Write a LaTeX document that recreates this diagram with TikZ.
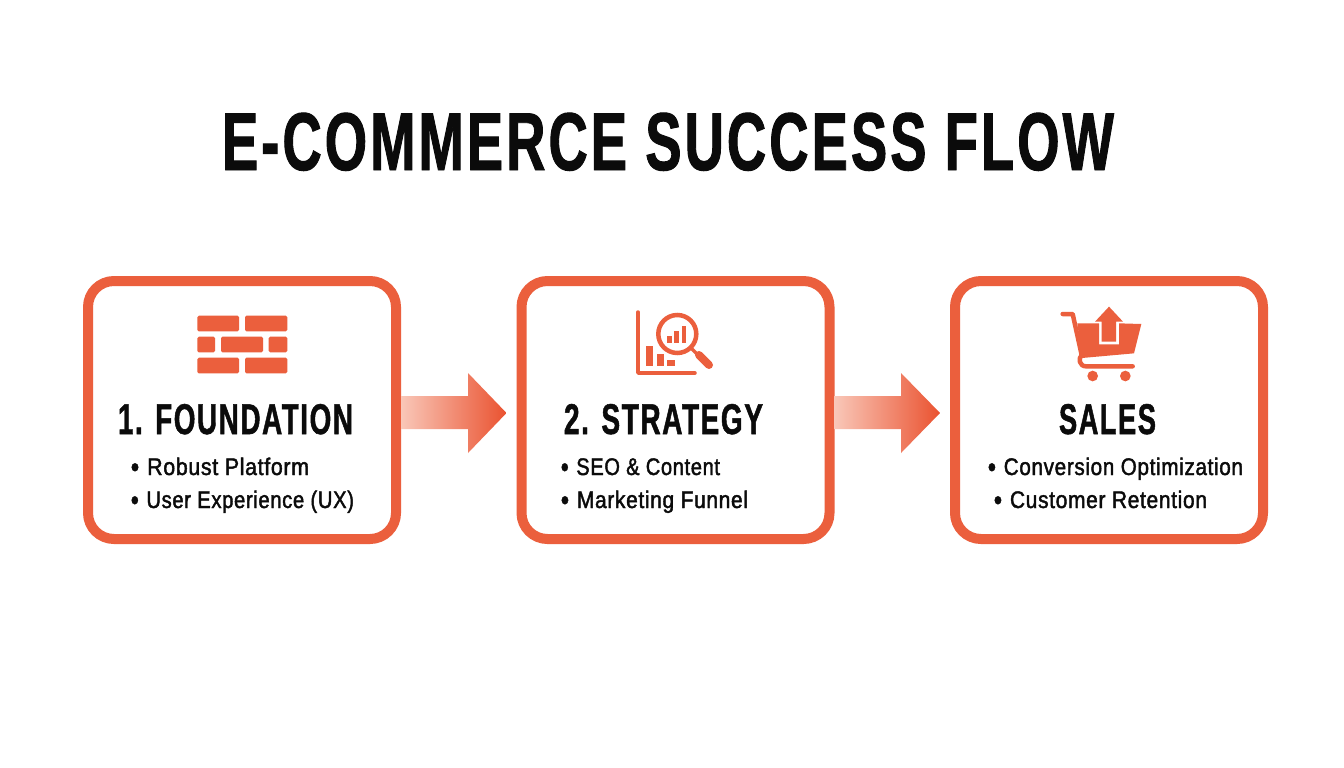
\documentclass[tikz,border=0pt]{standalone}
\usepackage{graphicx}
\usepackage{fontspec}
\setmainfont{Liberation Sans}
\newfontfamily\headfont[FakeStretch=0.72,LetterSpace=4,FakeBold=1.2]{Liberation Sans Bold}
\newfontfamily\bodyfont[FakeStretch=0.78,FakeBold=1.6,LetterSpace=2.5]{Liberation Sans}
\definecolor{brand}{HTML}{EB5F3D}
\definecolor{brandhot}{HTML}{EA5230}
\definecolor{brandpale}{HTML}{F9C7B8}
\definecolor{ink}{HTML}{0B0B0B}
\newcommand\fitw[2]{\resizebox{#1}{\height}{#2}}
\newcommand\bul{\raisebox{-1.5pt}{\headfont\fontsize{28}{28}\selectfont •}\hspace{0.3em}}
\tikzset{
  stage/.style={draw=brand,line width=10pt,fill=white,rounded corners=26pt,minimum width=308pt,minimum height=258pt,inner sep=0pt},
  txt/.style={inner sep=0pt,outer sep=0pt,anchor=base west,text=ink},
  titletxt/.style={txt,font=\headfont\fontsize{82}{82}\selectfont},
  headtxt/.style={txt,font=\headfont\fontsize{43}{43}\selectfont},
  bullettxt/.style={txt,font=\bodyfont\fontsize{24}{24}\selectfont},
  flowarrow/.style={left color=brandpale,right color=brandhot,draw=none},
  icon/.style={fill=brand,draw=none},
  iconline/.style={draw=brand,line cap=round,line join=round},
}
% block arrow from the right side of #1 to a tip just short of the left side of #2
\newcommand\blockarrow[3]{%
  \path[flowarrow]
    ([yshift=-19pt]#1.east) -- ([yshift=-19pt]#2.west -| #3) -- ([yshift=-43pt]#2.west -| #3)
    -- ([xshift=-10pt,yshift=-3pt]#2.west) -- ([yshift=37pt]#2.west -| #3) -- ([yshift=14pt]#2.west -| #3)
    -- ([yshift=14pt]#1.east) -- cycle;}
\begin{document}
\begin{tikzpicture}[x=1pt,y=-1pt]
\useasboundingbox (0,0) rectangle (1344,768);
\fill[white] (0,0) rectangle (1344,768);

\node[titletxt] (title) at (222,170) {\fitw{892pt}{E-COMMERCE SUCCESS FLOW}};

\node[stage] (box1) at (242,410) {};
\node[stage] (box2) at (675.5,410) {};
\node[stage] (box3) at (1109,410) {};

\coordinate (headA) at (468,0);
\coordinate (headB) at (901,0);
\blockarrow{box1}{box2}{headA}
\blockarrow{box2}{box3}{headB}

% brick icon
\foreach \xa/\ya/\xb/\yb in {197.3/315.7/239/331.3,245/315.7/287.3/331.3,197.3/336.7/215/352.3,221/336.7/263/352.3,268.7/336.7/287.3/352.3,197.3/357.7/239/373.3,245/357.7/287.3/373.3}
  \fill[icon,rounded corners=1.5pt] (\xa,\ya) rectangle (\xb,\yb);

% chart and magnifier icon
\draw[iconline,line width=3.5pt] (638,312) -- (638,373) -- (695,373);
\foreach \xa/\ya/\xb/\yb in {646/345.7/653.3/366,656.7/354.3/664/366,667/359.7/674.7/366,666.7/336/671.7/342.7,674.3/331/679.3/342.7,681.7/325.7/686.3/342.7}
  \fill[icon] (\xa,\ya) rectangle (\xb,\yb);
\draw[draw=brand,line width=4.5pt] (677.3,334) circle (19);
\draw[iconline,line width=3.5pt] (692,349) -- (698,355);
\draw[iconline,line width=8pt] (699,355) -- (709,365);

% cart icon
\begin{scope}[shift={(1050,300)},x=0.33333pt,y=-0.33333pt]
  \draw[iconline,line width=4.5pt] (38,42) -- (68,42) -- (95,165) .. controls (84,175) and (88,199) .. (108,199) -- (248,199);
  \fill[icon] (82,70) -- (147,70) -- (147,133) -- (207,133) -- (207,70) -- (274,72) -- (252,160) -- (96,174) -- cycle;
  \fill[icon] (177,20) -- (219,65) -- (198,65) -- (198,125) -- (155,125) -- (155,65) -- (135,65) -- cycle;
  \fill[icon] (128,228) circle (16);
  \fill[icon] (226,228) circle (16);
\end{scope}

\node[headtxt] (h1) at (118,434) {\fitw{235pt}{1. FOUNDATION}};
\node[headtxt] (h2) at (564,434) {\fitw{199pt}{2. STRATEGY}};
\node[headtxt] (h3) at (1059,434) {\fitw{97pt}{SALES}};

\node[bullettxt] (b11) at (131,475) {\fitw{178pt}{\bul Robust Platform}};
\node[bullettxt] (b12) at (131,508) {\fitw{223pt}{\bul User Experience (UX)}};
\node[bullettxt] (b21) at (561,475) {\fitw{159pt}{\bul SEO \& Content}};
\node[bullettxt] (b22) at (561,508) {\fitw{187pt}{\bul Marketing Funnel}};
\node[bullettxt] (b31) at (988,475) {\fitw{255pt}{\bul Conversion Optimization}};
\node[bullettxt] (b32) at (994,508) {\fitw{213pt}{\bul Customer Retention}};
\end{tikzpicture}
\end{document}
